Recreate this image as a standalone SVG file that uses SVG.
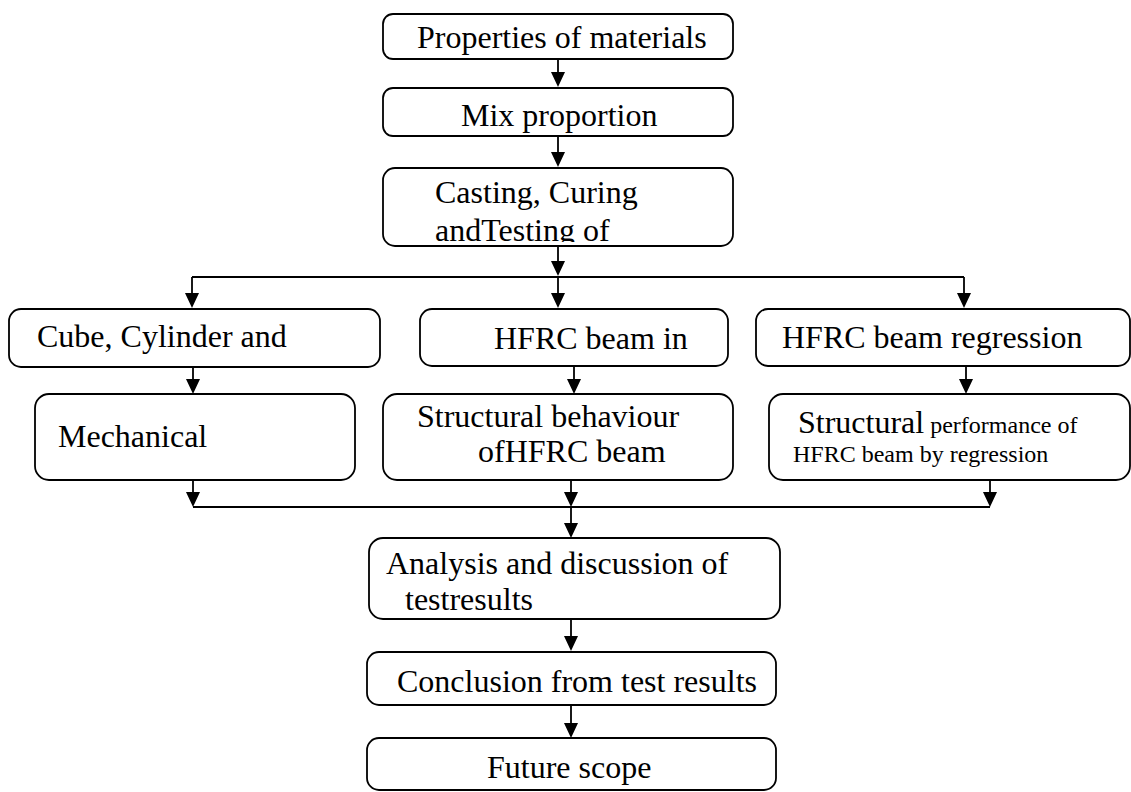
<svg xmlns="http://www.w3.org/2000/svg" width="1131" height="792" viewBox="0 0 1131 792">
<style>
.box{fill:#fff;stroke:#000;stroke-width:1.8}
.t{font-family:"Liberation Serif","Times New Roman",serif;font-size:32px;fill:#000}
.s{font-size:24px}
.c{fill:none;stroke:#000;stroke-width:1.8}
</style>
<defs>
<path id="ah" d="M-7,-15 L7,-15 L0,0 Z" fill="#000"/>
<clipPath id="clip3"><rect x="383" y="168" width="350" height="74"/></clipPath>
</defs>
<rect width="1131" height="792" fill="#fff"/>
<g id="connectors">
<line class="c" x1="558" y1="59" x2="558" y2="80"/>
<line class="c" x1="558" y1="136" x2="558" y2="160"/>
<line class="c" x1="558" y1="246" x2="558" y2="270"/>
<line class="c" x1="192" y1="277" x2="964" y2="277"/>
<line class="c" x1="192" y1="277" x2="192" y2="300"/>
<line class="c" x1="558" y1="277" x2="558" y2="300"/>
<line class="c" x1="964" y1="277" x2="964" y2="300"/>
<line class="c" x1="193" y1="367" x2="193" y2="386"/>
<line class="c" x1="574" y1="366" x2="574" y2="386"/>
<line class="c" x1="966" y1="366" x2="966" y2="386"/>
<line class="c" x1="193" y1="480" x2="193" y2="500"/>
<line class="c" x1="571" y1="480" x2="571" y2="500"/>
<line class="c" x1="990" y1="480" x2="990" y2="500"/>
<line class="c" x1="193" y1="507" x2="990" y2="507"/>
<line class="c" x1="571" y1="507" x2="571" y2="530"/>
<line class="c" x1="571" y1="619" x2="571" y2="643"/>
<line class="c" x1="571" y1="705" x2="571" y2="730"/>
<use href="#ah" x="558" y="87"/>
<use href="#ah" x="558" y="167"/>
<use href="#ah" x="558" y="276"/>
<use href="#ah" x="192" y="308"/>
<use href="#ah" x="558" y="308"/>
<use href="#ah" x="964" y="308"/>
<use href="#ah" x="193" y="394"/>
<use href="#ah" x="574" y="394"/>
<use href="#ah" x="966" y="394"/>
<use href="#ah" x="193" y="507"/>
<use href="#ah" x="571" y="507"/>
<use href="#ah" x="990" y="507"/>
<use href="#ah" x="571" y="538"/>
<use href="#ah" x="571" y="651"/>
<use href="#ah" x="571" y="738"/>
</g>
<g id="n1"><rect class="box" x="383" y="14" width="350" height="45" rx="10"/><text class="t" x="417" y="48">Properties of materials</text></g>
<g id="n2"><rect class="box" x="383" y="88" width="350" height="48" rx="10"/><text class="t" x="461" y="126">Mix proportion</text></g>
<g id="n3"><rect class="box" x="383" y="168" width="350" height="78" rx="12"/><text class="t" x="435" y="203">Casting, Curing</text><text class="t" x="435" y="241" clip-path="url(#clip3)">andTesting of</text></g>
<g id="n4"><rect class="box" x="9" y="309" width="371" height="58" rx="12"/><text class="t" x="37" y="347">Cube, Cylinder and</text></g>
<g id="n5"><rect class="box" x="420" y="309" width="308" height="57" rx="12"/><text class="t" x="494" y="349">HFRC beam in</text></g>
<g id="n6"><rect class="box" x="756" y="309" width="374" height="57" rx="12"/><text class="t" x="782" y="348">HFRC beam regression</text></g>
<g id="n7"><rect class="box" x="35" y="394" width="320" height="86" rx="14"/><text class="t" x="58" y="447">Mechanical</text></g>
<g id="n8"><rect class="box" x="383" y="394" width="350" height="86" rx="14"/><text class="t" x="417" y="427">Structural behaviour</text><text class="t" x="478" y="462">ofHFRC beam</text></g>
<g id="n9"><rect class="box" x="769" y="394" width="361" height="86" rx="14"/><text class="t" x="798" y="433">Structural<tspan class="s"> performance of</tspan></text><text class="t s" x="793" y="462">HFRC beam by regression</text></g>
<g id="n10"><rect class="box" x="369" y="538" width="411" height="81" rx="14"/><text class="t" x="386" y="574">Analysis and discussion of</text><text class="t" x="405" y="610">testresults</text></g>
<g id="n11"><rect class="box" x="367" y="652" width="409" height="53" rx="12"/><text class="t" x="397" y="692">Conclusion from test results</text></g>
<g id="n12"><rect class="box" x="367" y="738" width="409" height="52" rx="12"/><text class="t" x="487" y="778">Future scope</text></g>
</svg>
